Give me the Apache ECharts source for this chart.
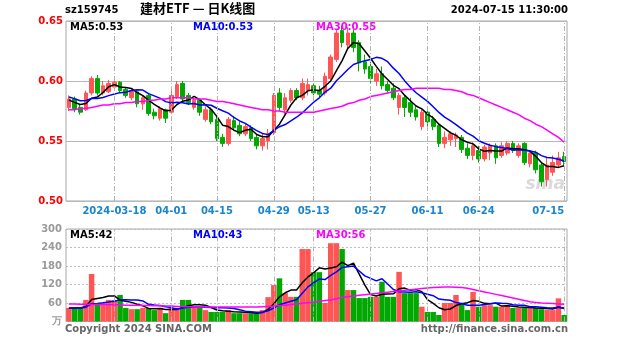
<!DOCTYPE html>
<html>
<head>
<meta charset="utf-8">
<script src="https://cdn.jsdelivr.net/npm/echarts@6/dist/echarts.min.js"></script>
<style>
  html, body { margin: 0; padding: 0; background: #fff; }
  #chart { width: 627px; height: 342px; }
</style>
</head>
<body>
<div id="chart"></div>
<script>
// sz159745 daily candles, 2024-03-06 .. 2024-07-15
const dates = [
  '2024-03-06','2024-03-07','2024-03-08','2024-03-11','2024-03-12','2024-03-13','2024-03-14','2024-03-15',
  '2024-03-18','2024-03-19','2024-03-20','2024-03-21','2024-03-22','2024-03-25','2024-03-26','2024-03-27',
  '2024-03-28','2024-03-29','2024-04-01','2024-04-02','2024-04-03','2024-04-08','2024-04-09','2024-04-10',
  '2024-04-11','2024-04-12','2024-04-15','2024-04-16','2024-04-17','2024-04-18','2024-04-19','2024-04-22',
  '2024-04-23','2024-04-24','2024-04-25','2024-04-26','2024-04-29','2024-04-30','2024-05-06','2024-05-07',
  '2024-05-08','2024-05-09','2024-05-10','2024-05-13','2024-05-14','2024-05-15','2024-05-16','2024-05-17',
  '2024-05-20','2024-05-21','2024-05-22','2024-05-23','2024-05-24','2024-05-27','2024-05-28','2024-05-29',
  '2024-05-30','2024-05-31','2024-06-03','2024-06-04','2024-06-05','2024-06-06','2024-06-07','2024-06-11',
  '2024-06-12','2024-06-13','2024-06-14','2024-06-17','2024-06-18','2024-06-19','2024-06-20','2024-06-21',
  '2024-06-24','2024-06-25','2024-06-26','2024-06-27','2024-06-28','2024-07-01','2024-07-02','2024-07-03',
  '2024-07-04','2024-07-05','2024-07-08','2024-07-09','2024-07-10','2024-07-11','2024-07-12','2024-07-15'
];

const opens = [
  0.578,0.585,0.578,0.576,0.590,0.602,0.590,0.591,0.595,0.599,0.593,0.586,0.591,0.581,0.588,0.574,
  0.569,0.576,0.574,0.587,0.598,0.588,0.578,0.584,0.568,0.576,0.568,0.553,0.548,0.567,0.563,0.556,
  0.561,0.553,0.546,0.550,0.557,0.590,0.576,0.584,0.592,0.586,0.592,0.596,0.592,0.590,0.602,0.618,
  0.642,0.630,0.640,0.632,0.616,0.612,0.600,0.606,0.597,0.594,0.578,0.586,0.582,0.576,0.562,0.574,
  0.568,0.563,0.548,0.551,0.552,0.553,0.544,0.538,0.542,0.535,0.540,0.546,0.538,0.540,0.548,0.538,
  0.548,0.531,0.540,0.530,0.518,0.524,0.530,0.537
];
const closes = [
  0.585,0.577,0.574,0.590,0.602,0.590,0.596,0.598,0.599,0.592,0.588,0.592,0.581,0.586,0.573,0.571,
  0.577,0.569,0.588,0.597,0.585,0.582,0.584,0.574,0.576,0.566,0.552,0.548,0.568,0.561,0.556,0.562,
  0.552,0.546,0.552,0.556,0.588,0.578,0.586,0.592,0.586,0.598,0.597,0.590,0.589,0.604,0.620,0.640,
  0.632,0.640,0.628,0.615,0.610,0.602,0.606,0.596,0.592,0.586,0.588,0.578,0.574,0.570,0.574,0.566,
  0.562,0.548,0.553,0.556,0.555,0.543,0.538,0.546,0.535,0.545,0.546,0.536,0.546,0.548,0.542,0.546,
  0.532,0.540,0.526,0.516,0.530,0.532,0.536,0.533
];
const highs = [
  0.588,0.587,0.580,0.592,0.604,0.605,0.600,0.601,0.600,0.600,0.595,0.594,0.593,0.588,0.590,0.577,
  0.579,0.577,0.592,0.600,0.600,0.590,0.586,0.585,0.579,0.578,0.570,0.556,0.570,0.571,0.566,0.565,
  0.563,0.556,0.556,0.560,0.590,0.594,0.590,0.594,0.594,0.602,0.602,0.598,0.596,0.607,0.622,0.643,
  0.646,0.645,0.643,0.634,0.622,0.616,0.610,0.612,0.600,0.598,0.590,0.588,0.586,0.579,0.576,0.576,
  0.571,0.565,0.558,0.558,0.557,0.555,0.548,0.549,0.546,0.547,0.548,0.548,0.549,0.550,0.550,0.548,
  0.549,0.542,0.542,0.532,0.536,0.538,0.541,0.541
];
const lows = [
  0.575,0.574,0.572,0.575,0.588,0.588,0.588,0.590,0.594,0.590,0.586,0.584,0.578,0.576,0.571,0.568,
  0.567,0.565,0.573,0.585,0.583,0.580,0.576,0.571,0.566,0.564,0.550,0.545,0.546,0.559,0.554,0.554,
  0.550,0.543,0.542,0.543,0.555,0.575,0.572,0.582,0.584,0.584,0.588,0.588,0.586,0.588,0.600,0.616,
  0.628,0.626,0.624,0.608,0.606,0.598,0.596,0.593,0.590,0.584,0.572,0.570,0.570,0.567,0.559,0.562,
  0.559,0.545,0.544,0.546,0.545,0.540,0.535,0.534,0.532,0.533,0.534,0.531,0.536,0.538,0.540,0.536,
  0.530,0.528,0.523,0.512,0.512,0.521,0.528,0.530
];
// closes of the nine sessions before the first candle (feed the moving averages)
const closesBefore = [0.590,0.592,0.588,0.585,0.590,0.587,0.583,0.586,0.580];
const priceMa30 = [
  0.576,0.576,0.577,0.577,0.578,0.579,0.580,0.580,0.581,0.581,0.582,0.582,0.583,0.583,0.584,0.584,
  0.585,0.585,0.586,0.586,0.586,0.586,0.585,0.585,0.585,0.584,0.583,0.583,0.582,0.581,0.580,0.579,
  0.578,0.577,0.576,0.576,0.575,0.575,0.574,0.574,0.574,0.574,0.574,0.574,0.575,0.576,0.577,0.578,
  0.579,0.581,0.582,0.584,0.585,0.587,0.588,0.589,0.590,0.591,0.592,0.593,0.593,0.594,0.594,0.594,
  0.594,0.594,0.593,0.593,0.592,0.591,0.589,0.588,0.586,0.584,0.582,0.580,0.578,0.576,0.574,0.572,
  0.569,0.567,0.564,0.562,0.559,0.556,0.553,0.549
];

const volumes = [
  44,44,44,70,154,60,60,70,70,86,44,40,40,44,44,37,
  44,27,44,44,70,70,44,44,37,31,31,31,37,27,27,27,
  27,27,37,79,118,140,92,80,80,235,235,160,160,60,254,254,
  235,102,102,76,76,80,80,129,80,80,161,92,92,92,48,31,
  31,21,60,60,86,60,37,96,48,53,53,48,48,53,44,44,
  44,44,44,40,38,37,75,21
];
const volumesBefore = [40,48,45,42,50,38,46,44,42];
const volumeMa30 = [
  57,57,56,56,55,55,55,54,54,54,53,53,53,52,52,51,
  51,50,50,49,49,48,48,47,47,47,47,47,47,47,47,47,
  47,47,48,49,50,52,53,55,57,59,61,63,66,68,70,74,
  78,80,83,85,87,89,91,93,95,97,99,101,103,105,107,109,
  110,111,112,112,111,110,108,104,100,96,92,88,84,80,76,72,
  68,64,62,60,59,58,57,56
];

const markedDates = ['2024-03-18','2024-04-01','2024-04-15','2024-04-29','2024-05-13',
                     '2024-05-27','2024-06-11','2024-06-24','2024-07-15'];
const priceTicks = { min: 0.50, max: 0.65, step: 0.05 };
const volumeTicks = { min: 0, max: 300, step: 60 };

const UP = '#ff5555', DOWN = '#00a800';
const FONT = '"DejaVu Sans", sans-serif';

function movingAverage(values, before, n) {
  const all = before.concat(values);
  return values.map((_, i) => {
    const end = i + before.length;
    let s = 0;
    for (let k = end - n + 1; k <= end; k++) s += all[k];
    return s / n;
  });
}

const ma5 = movingAverage(closes, closesBefore, 5);
const ma10 = movingAverage(closes, closesBefore, 10);
const vma5 = movingAverage(volumes, volumesBefore, 5);
const vma10 = movingAverage(volumes, volumesBefore, 10);
const last = dates.length - 1;

const markSet = new Set(markedDates);
const gridMarks = {
  symbol: 'none', silent: true, animation: false,
  label: { show: false },
  lineStyle: { color: '#b4b4b4', type: [5, 2, 1, 2], width: 1 },
  data: markedDates.map(d => ({ xAxis: d }))
};

function maLine(name, data, color, xi, yi) {
  return {
    name, type: 'line', data, xAxisIndex: xi, yAxisIndex: yi,
    showSymbol: false, silent: true,
    lineStyle: { color, width: 1.5 }, z: 4
  };
}

function legendText(x, y, text, color) {
  return { type: 'text', left: x, top: y, z: 10,
    style: { text, fill: color, font: 'bold 10px ' + FONT } };
}

const chart = echarts.init(document.getElementById('chart'), null, { renderer: 'canvas' });
chart.setOption({
  animation: false,
  backgroundColor: '#fff',
  grid: [
    { left: 66, top: 21, width: 501, height: 180, show: true, borderColor: '#a8a8a8', borderWidth: 1, backgroundColor: 'transparent' },
    { left: 66, top: 229, width: 501, height: 92.5, show: true, borderColor: '#a8a8a8', borderWidth: 1, backgroundColor: 'transparent' }
  ],
  xAxis: [
    { type: 'category', data: dates, gridIndex: 0, boundaryGap: true,
      axisLine: { show: false }, axisTick: { show: false }, splitLine: { show: false },
      axisLabel: {
        interval: (i, v) => markSet.has(v),
        formatter: (v, i) => (i === 8 ? v : v.slice(5)),
        color: '#1a85cc', fontSize: 10, fontWeight: 'bold', fontFamily: FONT, margin: 5,
        alignMaxLabel: 'right'
      } },
    { type: 'category', data: dates, gridIndex: 1, boundaryGap: true,
      axisLine: { show: false }, axisTick: { show: false }, splitLine: { show: false },
      axisLabel: { show: false } }
  ],
  yAxis: [
    { type: 'value', gridIndex: 0, min: priceTicks.min, max: priceTicks.max, interval: priceTicks.step,
      axisLine: { show: false }, axisTick: { show: false },
      axisLabel: { color: '#ff0000', fontSize: 10, fontWeight: 'bold', fontFamily: FONT, margin: 3,
        formatter: v => v.toFixed(2) },
      splitLine: { lineStyle: { color: '#b8b8b8', width: 1 } } },
    { type: 'value', gridIndex: 1, min: volumeTicks.min, max: volumeTicks.max, interval: volumeTicks.step,
      axisLine: { show: false }, axisTick: { show: false },
      axisLabel: { color: '#9a9a9a', fontSize: 10, fontWeight: 'bold', fontFamily: FONT, margin: 4,
        formatter: v => (v === 0 ? '万' : String(v)) },
      splitLine: { lineStyle: { color: '#bdbdbd', width: 1, type: [2, 2] } } }
  ],
  series: [
    { name: 'K', type: 'candlestick', xAxisIndex: 0, yAxisIndex: 0,
      data: dates.map((_, i) => [opens[i], closes[i], lows[i], highs[i]]),
      barWidth: '72%',
      itemStyle: { color: UP, color0: DOWN, borderColor: UP, borderColor0: DOWN, borderWidth: 1 },
      markLine: gridMarks, z: 3 },
    maLine('MA5', ma5, '#000000', 0, 0),
    maLine('MA10', ma10, '#0000ff', 0, 0),
    maLine('MA30', priceMa30, '#ff00ff', 0, 0),
    { name: 'VOL', type: 'bar', xAxisIndex: 1, yAxisIndex: 1,
      data: volumes.map((v, i) => ({ value: v, itemStyle: { color: closes[i] >= opens[i] ? UP : DOWN } })),
      barWidth: '96%', markLine: gridMarks, z: 3 },
    maLine('VMA5', vma5, '#000000', 1, 1),
    maLine('VMA10', vma10, '#0000ff', 1, 1),
    maLine('VMA30', volumeMa30, '#ff00ff', 1, 1)
  ],
  graphic: [
    { type: 'text', left: 65, top: 5, style: { text: 'sz159745', fill: '#000', font: 'bold 10px ' + FONT } },
    { type: 'text', left: 140, top: 2, style: { text: '建材ETF — 日K线图', fill: '#000', font: 'bold 13px "Noto Sans CJK SC", sans-serif' } },
    { type: 'text', right: 59, top: 5, style: { text: '2024-07-15 11:30:00', fill: '#000', font: 'bold 10px ' + FONT } },
    legendText(70, 22, 'MA5:' + ma5[last].toFixed(2), '#000'),
    legendText(193, 22, 'MA10:' + ma10[last].toFixed(2), '#0000ff'),
    legendText(316, 22, 'MA30:' + priceMa30[last].toFixed(2), '#ff00ff'),
    legendText(70, 230, 'MA5:' + Math.round(vma5[last]), '#000'),
    legendText(193, 230, 'MA10:' + Math.round(vma10[last]), '#0000ff'),
    legendText(316, 230, 'MA30:' + Math.round(volumeMa30[last]), '#ff00ff'),
    { type: 'text', right: 62, top: 176, z: 1,
      style: { text: 'sina', fill: 'rgba(150,150,150,0.35)', font: 'italic bold 17px ' + FONT } },
    { type: 'text', left: 65, top: 324, z: 10,
      style: { text: 'Copyright 2024 SINA.COM', fill: '#666', font: 'bold 10px ' + FONT } },
    { type: 'text', right: 59, top: 324, z: 10,
      style: { text: 'http://finance.sina.com.cn', fill: '#666', font: 'bold 10px ' + FONT } }
  ]
});
</script>
</body>
</html>
